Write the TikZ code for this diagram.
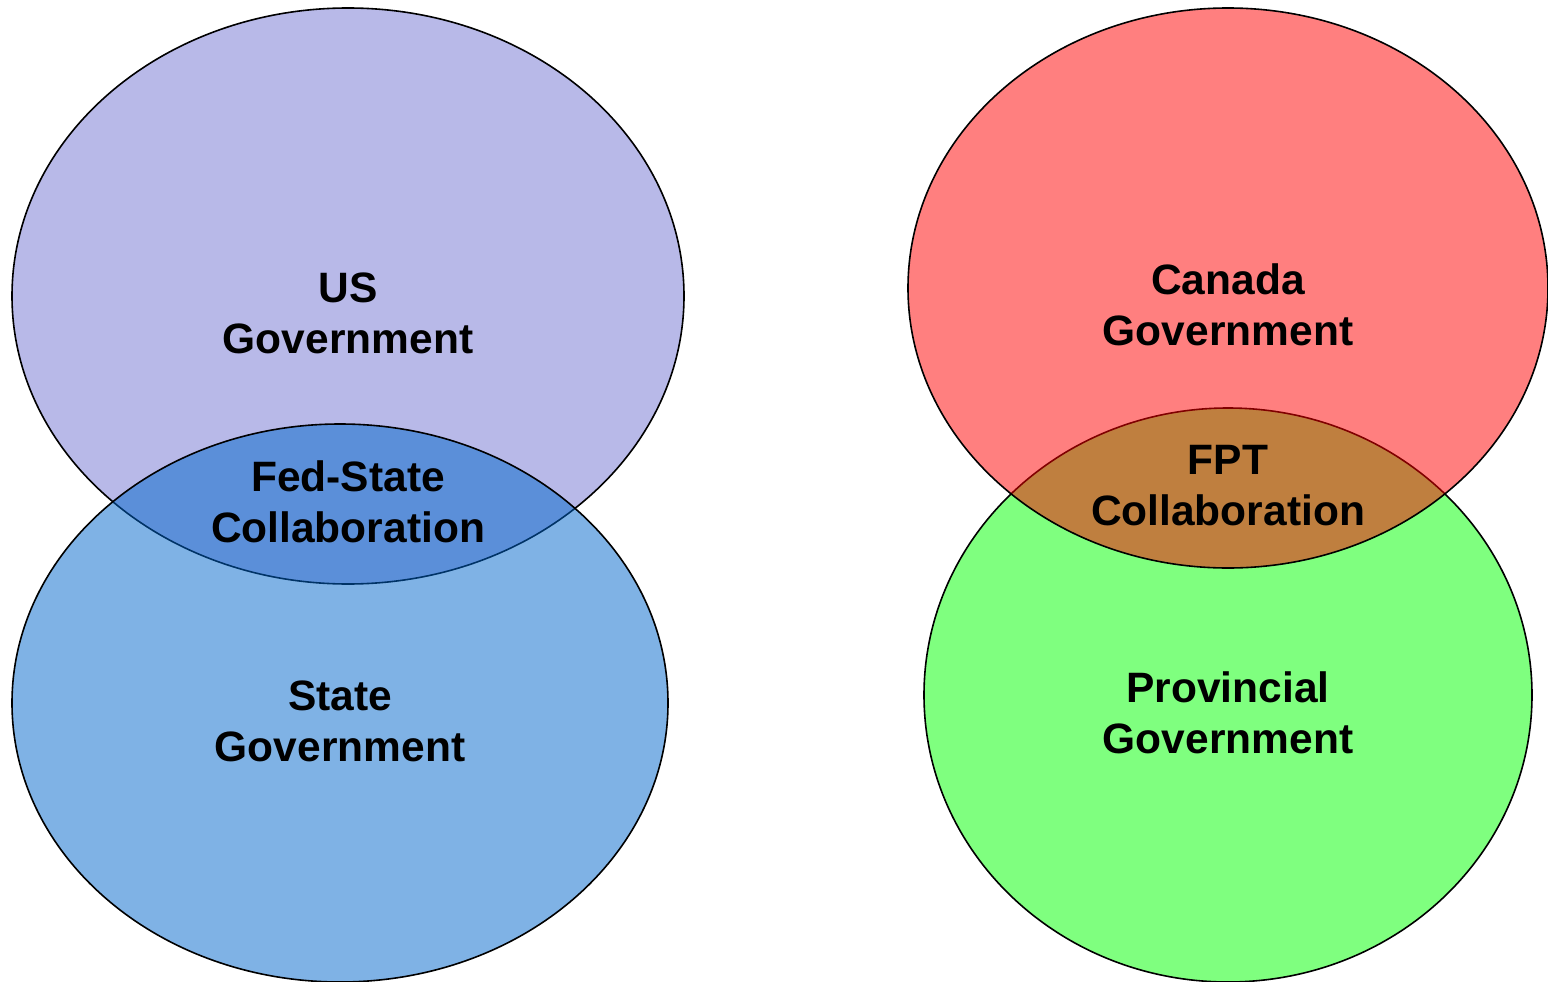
\documentclass[tikz,border=0pt]{standalone}
\usepackage{fontspec}
\setmainfont{Liberation Sans}
\usepackage{tikz}
\usetikzlibrary{calc}

\definecolor{usblue}{RGB}{113,115,209}
\definecolor{stateblue}{RGB}{0,102,204}
\definecolor{canred}{RGB}{255,0,0}
\definecolor{provgreen}{RGB}{0,255,0}

\begin{document}
\begin{tikzpicture}[x=1pt,y=-1pt,
        venn/.style={draw=black,line width=1.6pt,fill opacity=0.5},
        lbl/.style={align=center,inner sep=0pt,font=\fontsize{42.5}{51}\selectfont\bfseries}]
        \useasboundingbox (0,0) rectangle (1548,982);
        % US side
        \draw[venn,fill=usblue] (348,296) ellipse [x radius=336pt, y radius=288pt];
        \draw[venn,fill=stateblue] (340,703) ellipse [x radius=328pt, y radius=279pt];
        % Canada side
        \draw[venn,fill=provgreen] (1228,695) ellipse [x radius=304pt, y radius=287pt];
        \draw[venn,fill=canred] (1228,288) ellipse [x radius=320pt, y radius=280pt];
        \node[lbl](us) at (348, 313) {US\\Government};
        \node[lbl](fedstate) at (348, 502) {Fed-State\\Collaboration};
        \node[lbl](state) at (340, 721) {State\\Government};
        \node[lbl](canada) at (1228, 305) {Canada\\Government};
        \node[lbl](fpt) at (1228, 486) {FPT\\Collaboration};
        \node[lbl](prov) at (1228, 713) {Provincial\\Government};
      \end{tikzpicture}
\end{document}
